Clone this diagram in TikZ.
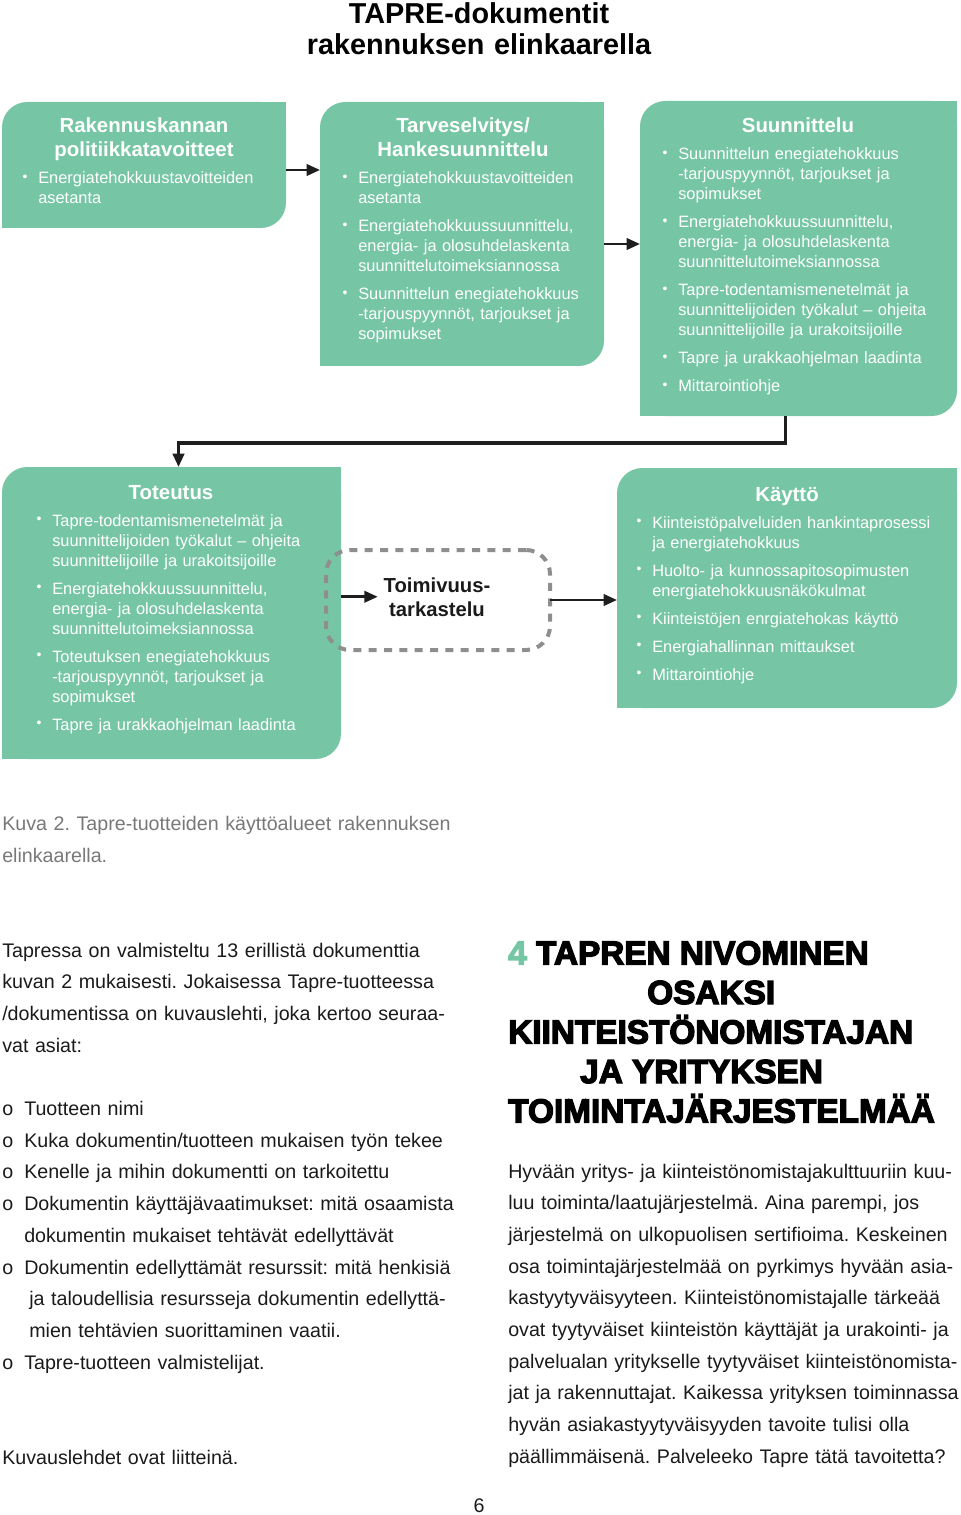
\documentclass[tikz,border=0pt]{standalone}
\usepackage{fontspec}
\setmainfont{Liberation Sans}
\newfontfamily\heavyfont{Liberation Sans}[BoldFeatures={FakeBold=4}]
\usetikzlibrary{arrows.meta,calc}
\definecolor{tgreen}{HTML}{76C6A6}
\definecolor{tdash}{HTML}{8E8E8E}
\definecolor{tcap}{HTML}{787878}
\definecolor{tarrow}{HTML}{1E1E1E}
\definecolor{tbody}{HTML}{1A1A1A}
\frenchspacing
\newdimen\px \px=0.75pt
\newcommand\bu{\leavevmode\llap{\raisebox{0.25ex}{\scalebox{0.85}{\textbullet}}\hspace{8pt}}}
\newcommand\nx{\\[6pt]\bu}
\newcommand\ob{\makebox[22\px][l]{o}}
\newcommand\greenfill[1]{%
  \fill[tgreen,rounded corners=19pt] (#1.north west) rectangle (#1.south east);
  \fill[tgreen] (#1.north east) rectangle ++(-32,32);
  \fill[tgreen] (#1.south west) rectangle ++(32,-32);}
\begin{document}
\begin{tikzpicture}[x=0.75pt,y=-0.75pt,
  boxnode/.style={inner sep=0pt, outer sep=0pt, anchor=north west, draw=none},
  bhead/.style={anchor=base, inner sep=0pt, text width=300\px, align=center, text=white,
    font=\bfseries\fontsize{15.3pt}{18pt}\selectfont},
  btxt/.style={anchor=base west, inner sep=0pt, text width=330\px, align=left, text=white,
    font=\fontsize{12.3pt}{15pt}\selectfont},
  arr/.style={draw=tarrow, line width=2pt, -{Triangle[length=10pt,width=8.5pt]}},
  bodytxt/.style={anchor=base west, inner sep=0pt, text width=470\px, align=left, text=tbody,
    font=\fontsize{14.75pt}{23.775pt}\selectfont},
  heavy/.style={anchor=base west, inner sep=0pt, text=black,
    font=\heavyfont\bfseries\fontsize{25pt}{25pt}\selectfont}]
\useasboundingbox (0,0) rectangle (960,1515);

% title
\node[anchor=base, inner sep=0pt, text width=600\px, align=center, text=black,
  font=\bfseries\fontsize{21.6pt}{23.25pt}\selectfont] (title) at (479,23.5)
  {TAPRE-dokumentit\\rakennuksen elinkaarella};

% boxes
\node[boxnode, minimum width=284\px, minimum height=126\px] (B1) at (2,102) {};
\node[boxnode, minimum width=284\px, minimum height=264\px] (B2) at (320,102) {};
\node[boxnode, minimum width=317\px, minimum height=315\px] (B3) at (640,101) {};
\node[boxnode, minimum width=339\px, minimum height=292\px] (B4) at (2,467) {};
\node[boxnode, minimum width=340\px, minimum height=240\px] (B5) at (617,468) {};
\greenfill{B1}
\greenfill{B2}
\greenfill{B3}
\greenfill{B4}
\greenfill{B5}

% box texts
\node[bhead] (B1h) at (144,133) {Rakennuskannan\\politiikkatavoitteet};
\node[btxt] (B1t) at (38,184) {\bu Energiatehokkuustavoitteiden\\asetanta};

\node[bhead] (B2h) at (463,133) {Tarveselvitys/\\Hankesuunnittelu};
\node[btxt] (B2t) at (358,184) {\bu Energiatehokkuustavoitteiden\\asetanta
  \nx Energiatehokkuussuunnittelu,\\energia- ja olosuhdelaskenta\\suunnittelutoimeksiannossa
  \nx Suunnittelun enegiatehokkuus\\-tarjouspyynnöt, tarjoukset ja\\sopimukset};

\node[bhead] (B3h) at (798,133) {Suunnittelu};
\node[btxt] (B3t) at (678,160) {\bu Suunnittelun enegiatehokkuus\\-tarjouspyynnöt, tarjoukset ja\\sopimukset
  \nx Energiatehokkuussuunnittelu,\\energia- ja olosuhdelaskenta\\suunnittelutoimeksiannossa
  \nx Tapre-todentamismenetelmät ja\\suunnittelijoiden työkalut – ohjeita\\suunnittelijoille ja urakoitsijoille
  \nx Tapre ja urakkaohjelman laadinta
  \nx Mittarointiohje};

\node[bhead] (B4h) at (171,499) {Toteutus};
\node[btxt] (B4t) at (52,526) {\bu Tapre-todentamismenetelmät ja\\suunnittelijoiden työkalut – ohjeita\\suunnittelijoille ja urakoitsijoille
  \nx Energiatehokkuussuunnittelu,\\energia- ja olosuhdelaskenta\\suunnittelutoimeksiannossa
  \nx Toteutuksen enegiatehokkuus\\-tarjouspyynnöt, tarjoukset ja\\sopimukset
  \nx Tapre ja urakkaohjelman laadinta};

\node[bhead] (B5h) at (787,501) {Käyttö};
\node[btxt] (B5t) at (652,528) {\bu Kiinteistöpalveluiden hankintaprosessi\\ja energiatehokkuus
  \nx Huolto- ja kunnossapitosopimusten\\energiatehokkuusnäkökulmat
  \nx Kiinteistöjen enrgiatehokas käyttö
  \nx Energiahallinnan mittaukset
  \nx Mittarointiohje};

% dashed box
\node[boxnode, minimum width=224\px, minimum height=100\px, draw=tdash, line width=3pt,
  dash pattern=on 6pt off 5.5pt, rounded corners=18pt] (D) at (326,550) {};
\node[anchor=base, inner sep=0pt, text width=118\px, align=center, text=tbody,
  font=\bfseries\fontsize{15.2pt}{18pt}\selectfont] (T) at (437,592) {Toimivuus-\\tarkastelu};

% connectors
\draw[arr] ([yshift=-5\px]B1.east) -- ([yshift=-5\px]B1.east -| B2.west);
\draw[arr] ([yshift=-10\px]B2.east) -- ([yshift=-10\px]B2.east -| B3.west);
\draw[arr, line width=2.3pt] ([xshift=-13\px]B3.south) -- ++(0,27) -| ([xshift=7\px]B4.north);
\draw[arr] (B4.east |- T.west) -- (T.west);
\draw[arr] (D.east) -- (D.east -| B5.west);

% caption
\node[anchor=base west, inner sep=0pt, text width=470\px, align=left, text=tcap,
  font=\fontsize{14.75pt}{24pt}\selectfont] (cap) at (2,830)
  {Kuva 2. Tapre-tuotteiden käyttöalueet rakennuksen\\elinkaarella.};

% left column
\node[bodytxt] (left) at (2,957) {Tapressa on valmisteltu 13 erillistä dokumenttia\\
kuvan 2 mukaisesti. Jokaisessa Tapre-tuotteessa\\
/dokumentissa on kuvauslehti, joka kertoo seuraa-\\
vat asiat:\\[23.775pt]
\ob Tuotteen nimi\\
\ob Kuka dokumentin/tuotteen mukaisen työn tekee\\
\ob Kenelle ja mihin dokumentti on tarkoitettu\\
\ob Dokumentin käyttäjävaatimukset: mitä osaamista\\
\hspace*{22\px}dokumentin mukaiset tehtävät edellyttävät\\
\ob Dokumentin edellyttämät resurssit: mitä henkisiä\\
\hspace*{27\px}ja taloudellisia resursseja dokumentin edellyttä-\\
\hspace*{27\px}mien tehtävien suorittaminen vaatii.\\
\ob Tapre-tuotteen valmistelijat.\\[47.55pt]
Kuvauslehdet ovat liitteinä.};

% right heading
\node[heavy] (h1) at (508,964.5) {{\color{tgreen}4} TAPREN NIVOMINEN};
\node[heavy] (h2) at (647,1004) {OSAKSI};
\node[heavy] (h3) at (508,1043.5) {KIINTEISTÖNOMISTAJAN};
\node[heavy] (h4) at (580,1083) {JA YRITYKSEN};
\node[heavy] (h5) at (508,1122.5) {TOIMINTAJÄRJESTELMÄÄ};

% right paragraph
\node[bodytxt] (right) at (508,1178) {Hyvään yritys- ja kiinteistönomistajakulttuuriin kuu-\\
luu toiminta/laatujärjestelmä. Aina parempi, jos\\
järjestelmä on ulkopuolisen sertifioima. Keskeinen\\
osa toimintajärjestelmää on pyrkimys hyvään asia-\\
kastyytyväisyyteen. Kiinteistönomistajalle tärkeää\\
ovat tyytyväiset kiinteistön käyttäjät ja urakointi- ja\\
palvelualan yritykselle tyytyväiset kiinteistönomista-\\
jat ja rakennuttajat. Kaikessa yrityksen toiminnassa\\
hyvän asiakastyytyväisyyden tavoite tulisi olla\\
päällimmäisenä. Palveleeko Tapre tätä tavoitetta?};

% page number
\node[anchor=base, inner sep=0pt, text=tbody, font=\fontsize{14.75pt}{18pt}\selectfont] (pg) at (479,1512) {6};
\end{tikzpicture}
\end{document}
